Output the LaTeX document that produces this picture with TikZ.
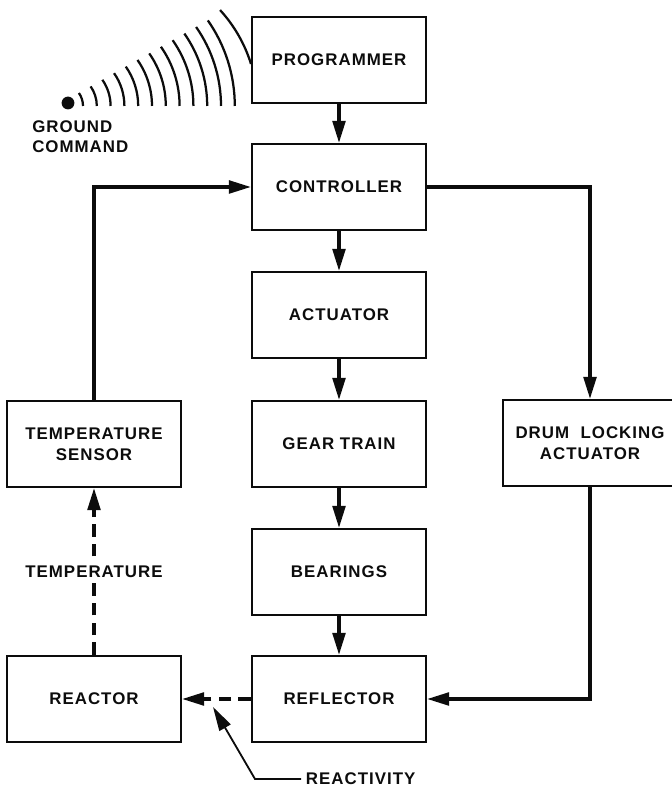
\documentclass[tikz,border=0pt]{standalone}
\usepackage{fontspec}
\usepackage{xcolor}
\usepackage{tikz}
\usetikzlibrary{arrows.meta, positioning}
\newfontfamily\diagfont{Liberation Sans}[LetterSpace=6]
\definecolor{myink}{RGB}{12,12,12}
\tikzset{
  block/.style={rectangle, draw=myink, line width=1.6pt,
    minimum width=4.35cm, minimum height=2.15cm, align=center,
    font=\diagfont\fontsize{12}{15}\selectfont\bfseries, text=myink},
  lbl/.style={font=\diagfont\fontsize{12}{14.5}\selectfont\bfseries, text=myink},
  arrow/.style={-{Triangle[length=0.55cm, width=0.32cm]}, line width=2.2pt, color=myink},
  dasharrow/.style={arrow, dash pattern=on 9pt off 5pt},
  pointer/.style={-{Triangle[length=0.6cm, width=0.32cm]}, line width=1.3pt, color=myink},
  wave/.style={line width=1.6pt, color=myink},
  dot/.style={circle, fill=myink, inner sep=0pt, minimum size=0.32cm}
}
\begin{document}
\begin{tikzpicture}[x=0.025cm, y=0.025cm]
  \useasboundingbox (0,0) rectangle (671,788);

  % Main chain
  \node[block] (prog) at (339,728) {PROGRAMMER};
  \node[block] (ctrl) at (339,601) {CONTROLLER};
  \node[block] (act) at (339,473) {ACTUATOR};
  \node[block] (gear) at (339,344) {GEAR TRAIN};
  \node[block] (bear) at (339,216) {BEARINGS};
  \node[block] (refl) at (339,89) {REFLECTOR};

  % Side blocks
  \node[block] (tsens) at (94,344) {TEMPERATURE\\SENSOR};
  \node[block] (reactor) at (94,89) {REACTOR};
  \node[block] (drum) at (590,345) {DRUM\ \ LOCKING\\ACTUATOR};

  % Forward path
  \draw[arrow] (prog) -- (ctrl);
  \draw[arrow] (ctrl) -- (act);
  \draw[arrow] (act) -- (gear);
  \draw[arrow] (gear) -- (bear);
  \draw[arrow] (bear) -- (refl);
  \draw[arrow] (ctrl.east) -| (drum.north);
  \draw[arrow] (drum.south) |- (refl.east);

  % Feedback loop
  \draw[arrow] (tsens.north) |- (ctrl.west);
  \draw[dasharrow] (reactor) -- node[lbl, fill=white] (templab) {TEMPERATURE} (tsens);
  \draw[dasharrow] (refl) -- (reactor);

  % Reactivity pointer
  \node[lbl, anchor=west] (rlab) at (301,9) {REACTIVITY};
  \coordinate (rbend) at (255,9);
  \coordinate (rtip) at (213,81);
  \draw[pointer] (rlab.west) -- (rbend) -- (rtip);

  % Ground command and radio waves
  \node[dot] (gc) at (68,685) {};
  \node[lbl, anchor=west, align=left, inner sep=0pt] (gclab) at (32,651) {GROUND\\COMMAND};
  \foreach \k in {0,...,11} {
    \pgfmathsetmacro{\xb}{83+13.8*\k}
    \pgfmathsetmacro{\rr}{(13+6.6*\k)/sin(35)}
    \draw[wave] (\xb,682) arc[start angle=0, end angle=35, radius=\rr];
  }
  \draw[wave] (251,724) arc[start angle=17.2, end angle=42.5, radius=142];
\end{tikzpicture}
\end{document}
